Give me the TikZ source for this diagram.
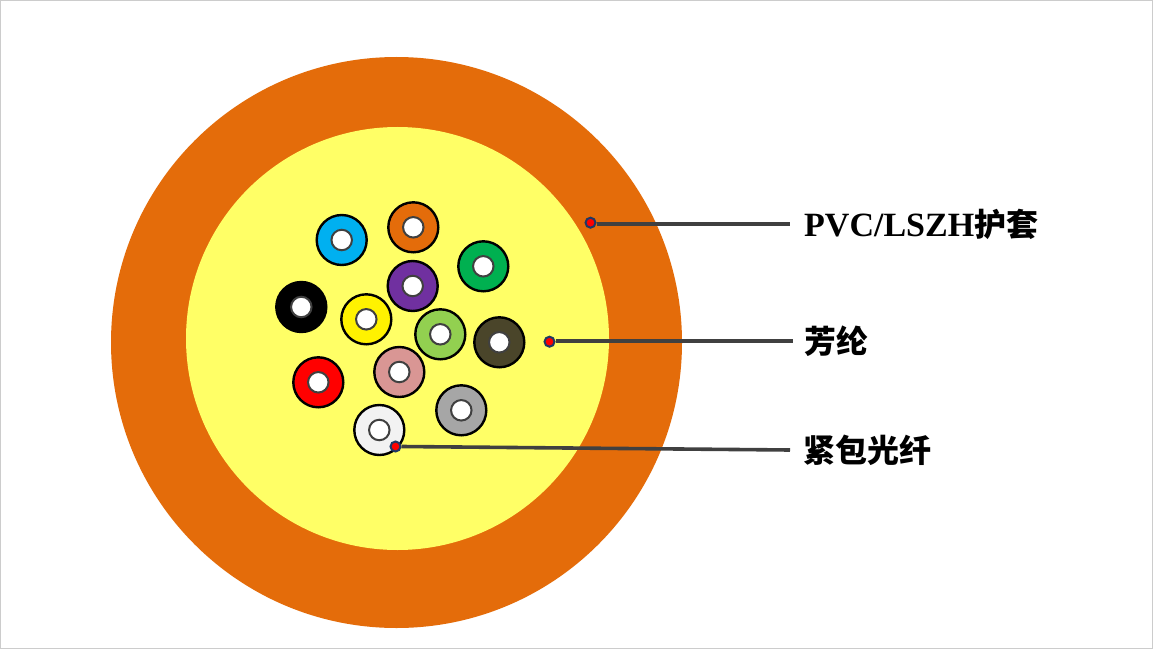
\documentclass[tikz,border=0pt]{standalone}
\usepackage{fontspec}
\setmainfont{Liberation Serif}
\newfontfamily\cjk[Scale=0.94]{Noto Sans CJK SC}
\definecolor{jacket}{HTML}{E46C0A}
\definecolor{aramid}{HTML}{FFFF66}
\definecolor{leadgray}{HTML}{404040}
\definecolor{dotblue}{HTML}{1F3864}
\begin{document}
\begin{tikzpicture}[
    x=1pt, y=-1pt,
    every node/.style={font=\fontsize{34}{40}\selectfont\bfseries, align=left},
    layer/.style={circle, inner sep=0pt},
    fibre/.style={circle, draw=black, line width=2.4pt, minimum size=50pt, inner sep=0pt},
    core/.style={circle, draw=leadgray, fill=white, line width=2pt, minimum size=20.5pt, inner sep=0pt},
    dot/.style={circle, draw=dotblue, fill=red, line width=2pt, minimum size=10pt, inner sep=0pt},
    lead/.style={draw=leadgray, line width=3.6pt},
    tag/.style={anchor=west, inner sep=0pt, text=black}
]
\useasboundingbox (0,0) rectangle (1154,650);
\draw[draw=black!20, fill=white, line width=1pt] (0.5,0.5) rectangle (1152.5,648.5);

\node[layer, fill=jacket, minimum size=571pt] (jacket) at (396.5,342.5) {};
\node[layer, fill=aramid, minimum size=423pt] (aramid) at (397.5,338.5) {};

\node[fibre, fill={rgb,255:red,0;green,176;blue,240}] (blue) at (341.7,240) {};
\node[fibre, fill=jacket] (orange) at (413.3,227.3) {};
\node[fibre, fill={rgb,255:red,0;green,176;blue,80}] (green) at (483.3,266.3) {};
\node[fibre, fill={rgb,255:red,112;green,48;blue,160}] (purple) at (412.7,286) {};
\node[fibre, fill=black] (black) at (301.3,307) {};
\node[fibre, fill=yellow] (yellow) at (366.3,319.3) {};
\node[fibre, fill={rgb,255:red,146;green,208;blue,80}] (lime) at (440.3,334.3) {};
\node[fibre, fill={rgb,255:red,74;green,69;blue,42}] (dark) at (499.3,342.3) {};
\node[fibre, fill=red] (red) at (318.3,382.3) {};
\node[fibre, fill={rgb,255:red,217;green,150;blue,148}] (pink) at (399.3,372) {};
\node[fibre, fill=black!35] (gray) at (461.3,410.3) {};
\node[fibre, fill=black!5] (white) at (379.3,430) {};

\node[core] (bluecore) at (blue) {};
\node[core] (orangecore) at (orange) {};
\node[core] (greencore) at (green) {};
\node[core] (purplecore) at (purple) {};
\node[core] (blackcore) at (black) {};
\node[core] (yellowcore) at (yellow) {};
\node[core] (limecore) at (lime) {};
\node[core] (darkcore) at (dark) {};
\node[core] (redcore) at (red) {};
\node[core] (pinkcore) at (pink) {};
\node[core] (graycore) at (gray) {};
\node[core] (whitecore) at (white) {};

\node[dot] (dotjacket) at (590.5,222.7) {};
\node[dot] (dotaramid) at (549.5,341.7) {};
\node[dot] (dotfibre) at (395.5,446.5) {};

\node[tag] (tagjacket) at (804,224) {PVC/LSZH{\cjk 护套}};
\node[tag] (tagaramid) at (804,341) {{\cjk 芳纶}};
\node[tag] (tagfibre) at (803,450) {{\cjk 紧包光纤}};

\coordinate (endjacket) at (790,224);
\coordinate (endaramid) at (793,341);
\coordinate (endfibre) at (790,450);
\draw[lead] (dotjacket.east |- endjacket) -- (endjacket);
\draw[lead] (dotaramid.east |- endaramid) -- (endaramid);
\draw[lead] (dotfibre.east) -- (endfibre);
\end{tikzpicture}
\end{document}
